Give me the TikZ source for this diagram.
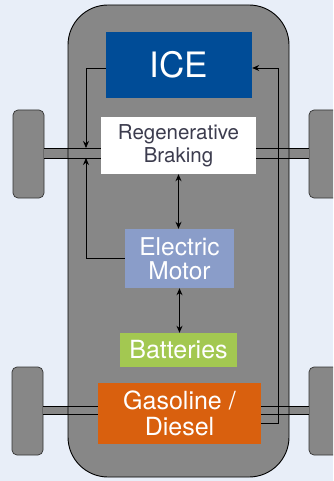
\documentclass[tikz,border=0pt]{standalone}
\usepackage{fontspec}
\setmainfont{TeX Gyre Heros}
\usetikzlibrary{arrows.meta}
\definecolor{bgc}{HTML}{E8EEF8}
\definecolor{bodyc}{HTML}{878787}
\definecolor{icec}{HTML}{004C97}
\definecolor{emc}{HTML}{8A9DC9}
\definecolor{batc}{HTML}{A3C851}
\definecolor{gasc}{HTML}{D9600E}
\definecolor{regtext}{HTML}{3C3C4E}
\tikzset{
  wheel/.style={fill=bodyc,draw=black!80,line width=0.7pt,rounded corners=5pt},
  blk/.style={inner sep=0pt,align=center,text=white},
  conn/.style={line width=0.9pt,-{Stealth[length=7pt,width=6pt]}},
  dconn/.style={line width=0.9pt,{Stealth[length=7pt,width=6pt]}-{Stealth[length=7pt,width=6pt]}},
  axleline/.style={line width=0.8pt,black}
}
\begin{document}
\begin{tikzpicture}[x=1pt,y=-1pt]
\useasboundingbox (0,0) rectangle (333,481);
\clip (0,0) rectangle (333,481);
\fill[bgc] (0,0) rectangle (333,481);
% wheels
\draw[wheel] (13,110) rectangle (44,198);
\draw[wheel] (309,110) rectangle (345,198);
\draw[wheel] (12,367) rectangle (43,455);
\draw[wheel] (309,367) rectangle (345,455);
% axle fills
\fill[bodyc] (44,148) rectangle (309,158);
\fill[bodyc] (43,406) rectangle (309,414);
% body
\draw[fill=bodyc,line width=0.9pt,rounded corners=40pt] (68,5) rectangle (289,477);
% axle lines
\draw[axleline] (44,148) -- (309,148);
\draw[axleline] (44,158) -- (309,158);
\draw[axleline] (43,406) -- (309,406);
\draw[axleline] (43,414) -- (309,414);
% boxes
\node[blk,fill=icec,minimum width=146pt,minimum height=66pt,font=\fontsize{35}{38}\selectfont] (ICE) at (179,65) {ICE};
\node[blk,fill=white,text=regtext,minimum width=155pt,minimum height=57pt,font=\fontsize{20.5}{23}\selectfont] (RB) at (178.5,145.5) {Regenerative\\Braking};
\node[blk,fill=emc,minimum width=109pt,minimum height=59pt,font=\fontsize{24.5}{24}\selectfont] (EM) at (179.5,258.5) {Electric\\Motor};
\node[blk,fill=batc,minimum width=117pt,minimum height=34pt,font=\fontsize{25}{26}\selectfont] (BAT) at (178.5,350) {Batteries};
\node[blk,fill=gasc,minimum width=163pt,minimum height=61pt,font=\fontsize{25}{25.5}\selectfont] (GD) at (179.5,413.5) {Gasoline /\\Diesel};
% connector coordinates
\coordinate (fa1) at (86,148);
\coordinate (fa2) at (86,158);
\coordinate (rt) at (278,68);
% connectors
\draw[conn] ([yshift=-3pt]ICE.west) -| (fa1);
\draw[conn] (EM.west) -| (fa2);
\draw[conn] ([yshift=-9.5pt]GD.east) -| (rt) -- ([yshift=-3pt]ICE.east);
\draw[dconn] (RB.south) -- (RB.south |- EM.north);
\draw[dconn] (EM.south) -- (EM.south |- BAT.north);
\end{tikzpicture}
\end{document}
